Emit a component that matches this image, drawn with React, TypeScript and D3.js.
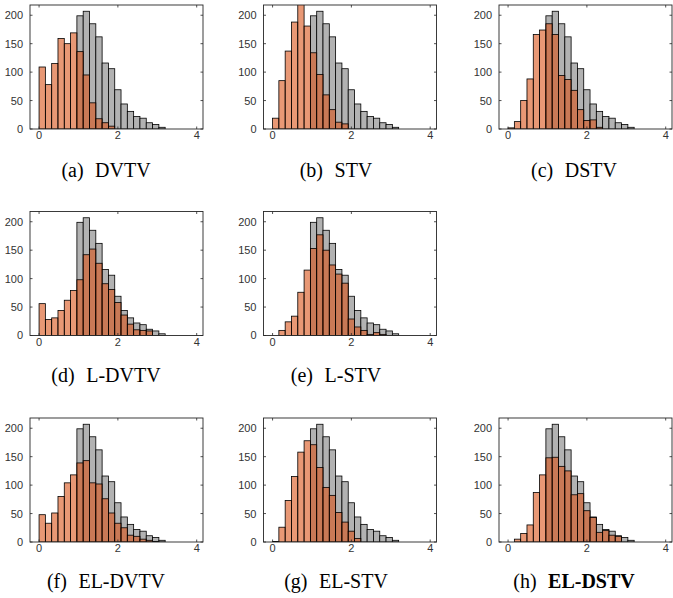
import React from "react";
import * as d3 from "d3";

// histogram bin edges (width 0.16)
const binEdges = [0, 0.16, 0.32, 0.48, 0.64, 0.8, 0.96, 1.12, 1.28, 1.44, 1.6,
  1.76, 1.92, 2.08, 2.24, 2.4, 2.56, 2.72, 2.88, 3.04, 3.2];

// grey reference histogram, the same in every panel
const refCounts = [0, 0, 0, 0, 0, 0, 199, 207, 185, 162, 116, 106, 69, 44, 31, 22, 19, 11, 8, 3];

// orange histograms, one per method
const dvtv = [109, 78, 115, 159, 150, 169, 136, 95, 46, 18, 11, 5, 0, 0, 0, 0, 0, 0, 0, 0];
const stv = [19, 85, 137, 188, 225, 181, 134, 96, 60, 34, 12, 9, 0, 0, 0, 0, 0, 0, 0, 0];
const dstv = [2, 13, 50, 88, 166, 174, 185, 166, 94, 87, 68, 34, 15, 16, 3, 0, 0, 0, 0, 0];
const lDvtv = [56, 28, 31, 44, 62, 79, 98, 142, 152, 127, 91, 81, 58, 36, 20, 10, 9, 8, 0, 0];
const lStv = [0, 9, 24, 34, 76, 115, 153, 177, 150, 124, 108, 92, 29, 15, 9, 2, 5, 2, 0, 0];
const elDvtv = [48, 33, 51, 80, 104, 118, 139, 143, 104, 102, 76, 51, 33, 25, 12, 10, 5, 3, 1, 0];
const elStv = [1, 26, 73, 115, 158, 178, 171, 131, 96, 82, 52, 35, 19, 6, 0, 0, 0, 0, 0, 0];
const elDstv = [0, 5, 15, 30, 87, 118, 148, 149, 133, 125, 83, 85, 55, 43, 17, 20, 12, 10, 0, 0];

const xTicks = [0, 2, 4];
const yTicks = [0, 50, 100, 150, 200];

const tags = ["(a)", "(b)", "(c)", "(d)", "(e)", "(f)", "(g)", "(h)"];
const names = ["DVTV", "STV", "DSTV", "L-DVTV", "L-STV", "EL-DVTV", "EL-STV", "EL-DSTV"];
const series = [dvtv, stv, dstv, lDvtv, lStv, elDvtv, elStv, elDstv];
const gridPos = [[0, 0], [0, 1], [0, 2], [1, 0], [1, 1], [2, 0], [2, 1], [2, 2]];

// layout
const W = 673, H = 598;
const axW = 173, axH = 124;
const colX = [30, 263.5, 499];
const rowY = [5, 211.5, 418];
const capX = [106, 336, 574];
const capY = [176.5, 382, 588];

const x = d3.scaleLinear().domain([-0.23, 4.16]).range([0, axW]);
const y = d3.scaleLinear().domain([0, 218]).range([axH, 0]);

function Bars({ counts, fill, opacity }) {
  return (
    <g>
      {counts.map((c, i) =>
        c > 0 ? (
          <rect
            key={i}
            x={x(binEdges[i])}
            y={y(c)}
            width={x(binEdges[i + 1]) - x(binEdges[i])}
            height={axH - y(c)}
            fill={fill}
            fillOpacity={opacity}
            stroke="#000"
            strokeWidth={0.8}
          />
        ) : null
      )}
    </g>
  );
}

function Panel({ idx }) {
  const [row, col] = gridPos[idx];
  const clipId = "clip" + idx;
  const tick = 2.5;
  return (
    <g>
      <g transform={`translate(${colX[col]},${rowY[row]})`}>
        <defs>
          <clipPath id={clipId}>
            <rect width={axW} height={axH} />
          </clipPath>
        </defs>
        <g clipPath={`url(#${clipId})`}>
          <Bars counts={refCounts} fill="#b2b2b2" opacity={1} />
          <Bars counts={series[idx]} fill="#d95319" opacity={0.6} />
        </g>
        <rect width={axW} height={axH} fill="none" stroke="#262626" strokeWidth={0.9} />
        {xTicks.map((t) => (
          <g key={"x" + t} stroke="#262626" strokeWidth={0.8}>
            <line x1={x(t)} x2={x(t)} y1={axH} y2={axH - tick} />
            <line x1={x(t)} x2={x(t)} y1={0} y2={tick} />
          </g>
        ))}
        {yTicks.map((t) => (
          <g key={"y" + t} stroke="#262626" strokeWidth={0.8}>
            <line x1={0} x2={tick} y1={y(t)} y2={y(t)} />
            <line x1={axW} x2={axW - tick} y1={y(t)} y2={y(t)} />
          </g>
        ))}
        <g fontFamily="Liberation Sans, Arial, sans-serif" fontSize={11} fill="#333">
          {xTicks.map((t) => (
            <text key={"xl" + t} x={x(t)} y={axH + 10.4} textAnchor="middle">{t}</text>
          ))}
          {yTicks.map((t) => (
            <text key={"yl" + t} x={-7} y={y(t)} dy="0.36em" textAnchor="end">{t}</text>
          ))}
        </g>
      </g>
      <text
        x={capX[col]}
        y={capY[row]}
        textAnchor="middle"
        fontFamily="Liberation Serif, Times New Roman, serif"
        fontSize={20}
        fill="#000"
      >
        <tspan>{tags[idx]}</tspan>
        <tspan dx={6.5} fontWeight={idx === 7 ? "bold" : "normal"}>{" " + names[idx]}</tspan>
      </text>
    </g>
  );
}

export default function App() {
  return (
    <svg
      width={W}
      height={H}
      style={{ position: "absolute", left: 0, top: 0, background: "#fff" }}
    >
      {series.map((_, i) => (
        <Panel key={i} idx={i} />
      ))}
    </svg>
  );
}
